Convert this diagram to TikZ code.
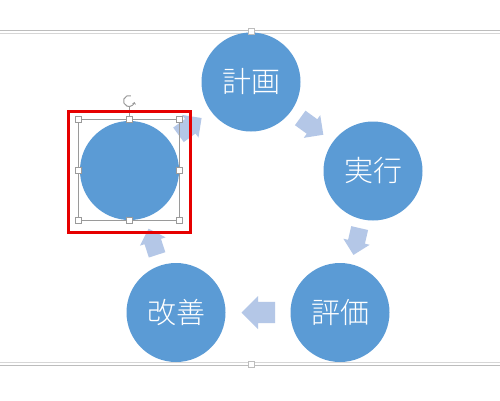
\documentclass[tikz,border=0pt]{standalone}
\usepackage{fontspec}
\IfFontExistsTF{Noto Sans CJK JP Light}
  {\newfontfamily\jpfont{Noto Sans CJK JP Light}}
  {\newfontfamily\jpfont{Noto Sans CJK JP}}
\usetikzlibrary{calc,arrows.meta}
\definecolor{circblue}{HTML}{5B9BD5}
\definecolor{arrblue}{HTML}{B4C7E7}
\definecolor{framedark}{HTML}{BDBDBD}
\definecolor{framelight}{HTML}{D6D6D6}
\definecolor{selgrey}{HTML}{9A9A9A}
\definecolor{selred}{HTML}{E60000}
\tikzset{
  stage/.style={circle, fill=circblue, draw=none, minimum size=99pt, inner sep=0pt,
    text=white, font=\jpfont\fontsize{29}{30}\selectfont},
  arrowfill/.style={fill=arrblue, draw=none},
  handle/.style={draw=selgrey, fill=white, line width=0.6pt, minimum size=6pt, inner sep=0pt, rectangle},
}
% block arrow between two named stages: #1 from, #2 to, #3 angle, #4 size
\newcommand\cycarrow[4]{%
  \begin{scope}[shift={($(#1)!0.5!(#2)$)}, rotate=#3]
    \fill[arrowfill] ({-0.52*#4},{-0.32*#4}) -- (0,{-0.32*#4}) -- (0,{-0.5*#4})
      -- ({0.5*#4},0) -- (0,{0.5*#4}) -- (0,{0.32*#4}) -- ({-0.52*#4},{0.32*#4}) -- cycle;
  \end{scope}}
\begin{document}
\begin{tikzpicture}[x=1pt,y=-1pt]
\useasboundingbox (0,0) rectangle (500,400);
\fill[white] (0,0) rectangle (500,400);
% frame lines
\draw[framedark, line width=1pt] (0,30.5) -- (500,30.5);
\draw[framelight, line width=1pt] (0,33.5) -- (500,33.5);
\draw[framelight, line width=1pt] (0,362.5) -- (500,362.5);
\draw[framedark, line width=1pt] (0,365.5) -- (500,365.5);
% stages
\node[stage] (plan) at (251,82) {計画};
\node[stage] (do) at (373,171) {実行};
\node[stage] (check) at (340,312.5) {評価};
\node[stage] (act) at (176,312.5) {改善};
\node[stage] (sel) at (129.5,170.5) {};
% frame handles
\node[handle, draw=framedark] (ht) at (251,31.5) {};
\node[handle, draw=framedark] (hb) at (251,364) {};
% cycle arrows
\cycarrow{plan}{do}{-36}{28}
\cycarrow{do}{check}{-103}{27}
\cycarrow{check}{act}{180}{33}
\cycarrow{act}{sel}{108}{27}
\cycarrow{sel}{plan}{36}{28}
% selection box
\draw[selgrey, line width=1pt] (78.5,119.5) rectangle (179.5,220);
\coordinate (rot) at (129,101);
\draw[selgrey, line width=0.8pt] (129,106.5) -- (129,119.5);
\draw[selgrey, line width=1pt, -{Stealth[length=2.5pt,width=4pt]}] ([shift={(70:5.5pt)}]rot) arc[start angle=70, end angle=350, radius=5.5pt];
\foreach \p/\q in {78.5/119.5, 129/119.5, 179.5/119.5, 78.5/170, 179.5/170, 78.5/220, 129/220, 179.5/220}
  \node[handle] at (\p,\q) {};
% red highlight
\draw[selred, line width=3pt] (68.5,111.5) rectangle (190,232);
\end{tikzpicture}
\end{document}
